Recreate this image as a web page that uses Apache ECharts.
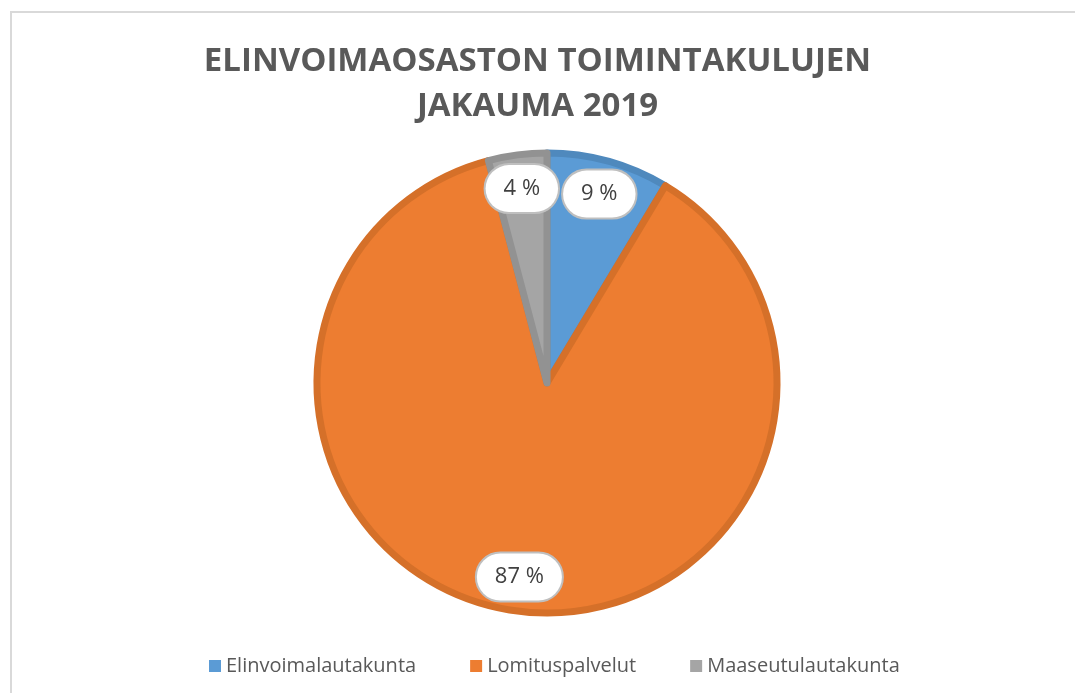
<!DOCTYPE html>
<html lang="fi">
<head>
    <meta charset="UTF-8">
    <title>Elinvoimaosaston toimintakulujen jakauma 2019</title>
    <script src="https://cdn.jsdelivr.net/npm/echarts@6/dist/echarts.min.js"></script>
    <style>
        html, body { margin: 0; padding: 0; background: #ffffff; }
        .frame { position: absolute; left: 10px; top: 11px; width: 1100px; height: 720px;
                 border-left: 2px solid #d9d9d9; border-top: 2px solid #d9d9d9; }
    </style>
</head>
<body>
<div class="frame"></div>
<div class="container" style="position:absolute;left:0;top:0;width:1075px;height:693px;"></div>
<script>
    let categories = ['Elinvoimalautakunta', 'Lomituspalvelut', 'Maaseutulautakunta'];
    let values = [8.6, 87.3, 4.1];
    let colors = ['#5b9bd5', '#ed7d31', '#a5a5a5'];
    let edgeColors = ['#4f89bd', '#d57029', '#929292'];

    let container = document.querySelector('.container');
    let mycharts = echarts.init(container);

    let pieData = categories.map((name, i) => ({
        name: name,
        value: values[i],
        itemStyle: { color: colors[i], borderColor: edgeColors[i], borderWidth: 7 }
    }));

    let labelData = categories.map((name, i) => ({ name: name, value: values[i] }));

    let option = {
        backgroundColor: 'transparent',
        title: {
            text: 'ELINVOIMAOSASTON TOIMINTAKULUJEN\nJAKAUMA 2019',
            left: 'center',
            top: 34,
            textStyle: {
                fontFamily: 'Open Sans',
                fontWeight: 'bold',
                fontSize: 33,
                lineHeight: 45,
                color: '#595959'
            }
        },
        legend: {
            data: categories,
            bottom: 12,
            left: 204,
            itemWidth: 12,
            itemHeight: 12,
            itemGap: 54,
            icon: 'rect',
            itemStyle: { borderWidth: 0 },
            textStyle: { fontFamily: 'Open Sans', fontSize: 20, color: '#595959' }
        },
        series: [{
            type: 'pie',
            center: [547, 383],
            radius: [0, 230],
            startAngle: 90,
            clockwise: true,
            silent: true,
            label: { show: false },
            labelLine: { show: false },
            data: pieData
        }, {
            type: 'pie',
            center: [547, 383],
            radius: [156, 230],
            startAngle: 90,
            clockwise: true,
            silent: true,
            itemStyle: { color: 'transparent' },
            labelLine: { show: false },
            label: {
                show: true,
                position: 'inside',
                formatter: p => Math.round(p.value) + ' %',
                fontFamily: 'Open Sans',
                fontSize: 22,
                color: '#404040',
                backgroundColor: '#ffffff',
                borderColor: '#bfbfbf',
                borderWidth: 2,
                borderRadius: 30,
                padding: [14, 18, 11, 18]
            },
            data: labelData
        }]
    };

    mycharts.setOption(option);
</script>
</body>
</html>
